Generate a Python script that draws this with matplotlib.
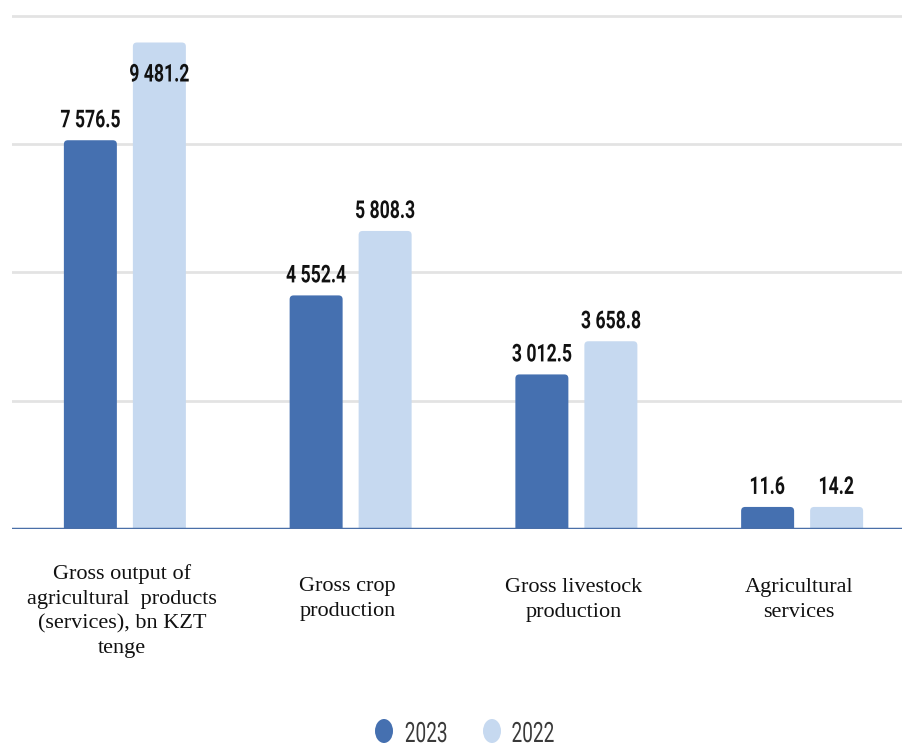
import numpy as np
import matplotlib
matplotlib.use('Agg')
import matplotlib.pyplot as plt
from matplotlib.patches import FancyBboxPatch, PathPatch, Ellipse
from matplotlib.textpath import TextPath
from matplotlib.font_manager import FontProperties
from matplotlib.transforms import Affine2D, IdentityTransform

categories = [
    "Gross output of\nagricultural  products\n(services), bn KZT\ntenge",
    "Gross crop\nproduction",
    "Gross livestock\nproduction",
    "Agricultural\nservices",
]
values_2023 = [7576.5, 4552.4, 3012.5, 11.6]
values_2022 = [9481.2, 5808.3, 3658.8, 14.2]
series_names = ["2023", "2022"]

DARK = "#4570b0"
LIGHT = "#c6d9f0"

W, H = 903, 744
fig = plt.figure(figsize=(W / 100, H / 100), dpi=100)
# axes runs past the right edge, the last group is slightly cut
ax = fig.add_axes([12 / W, (H - 529) / H, 903 / W, 528 / H])
ax.set_xlim(-0.5, 3.5)
ax.set_ylim(0, 10290)

px_x = 4.0 / 903        # x data units per pixel
px_y = 10290 / 528.0    # y data units per pixel
bar_w = 53 * px_x
offset = 34.5 * px_x
radius = 4 * px_x
min_len = 430           # smallest drawn bar height so tiny values stay visible

for y in [2500, 5000, 7500, 10000]:
    ax.axhline(y, color="#e3e3e3", lw=2, zorder=0)
ax.axhline(0, color="#4a6fa8", lw=2.5, zorder=5)


def narrow_text(x, y, s, size, sx=0.72, weight="bold", color="#111111"):
    """Horizontally condensed text, centred on x with baseline at y (pixels)."""
    fp = FontProperties(family="Roboto", weight=weight)
    tp = TextPath((0, 0), s, size=size, prop=fp)
    bb = tp.get_extents()
    tr = Affine2D().translate(-(bb.x0 + bb.x1) / 2, 0).scale(sx, 1).translate(x, y)
    fig.add_artist(PathPatch(tp, transform=tr, facecolor=color,
                             edgecolor="none", zorder=10))


def rounded_bar(xc, val, color):
    h = max(val, min_len)
    ext = radius * px_y / px_x * 2
    patch = FancyBboxPatch((xc - bar_w / 2, -ext), bar_w, h + ext,
                           boxstyle="round,pad=0,rounding_size=%f" % radius,
                           mutation_aspect=px_y / px_x,
                           facecolor=color, edgecolor="none", zorder=2)
    ax.add_patch(patch)
    px, py = ax.transData.transform((xc, h))
    label = f"{val:,.1f}".replace(",", " ")
    if py + 13 + 17 > H - 20:
        # no room above the plot top, put it inside the bar
        narrow_text(px, py - 39, label, 24.5)
    else:
        narrow_text(px, py + 13, label, 24.5)


x = np.arange(len(categories))
fig.canvas.draw()
for i in x:
    rounded_bar(i - offset, values_2023[i], DARK)
    rounded_bar(i + offset, values_2022[i], LIGHT)

label_y = [-82, -70, -71, -71]
for i, lab in enumerate(categories):
    ax.annotate(lab, xy=(i, 0), xycoords=("data", "axes fraction"),
                xytext=(-3, label_y[i]), textcoords="offset pixels",
                ha="center", va="center", fontsize=16,
                family=["Liberation Serif", "DejaVu Serif"],
                linespacing=1.38, color="#111111")

ax.set_xticks([])
ax.set_yticks([])
for s in ax.spines.values():
    s.set_visible(False)

# legend: oval markers with condensed labels, cut by the bottom edge
for cx, tx, name, c in [(384, 426, series_names[0], DARK),
                        (492, 533, series_names[1], LIGHT)]:
    fig.add_artist(Ellipse((cx, H - 731), 18, 24, transform=IdentityTransform(),
                           facecolor=c, edgecolor="none"))
    narrow_text(tx, 2, name, 28, sx=0.68, weight="normal", color="#3a3a3a")

fig.savefig("out.png", dpi=100)
